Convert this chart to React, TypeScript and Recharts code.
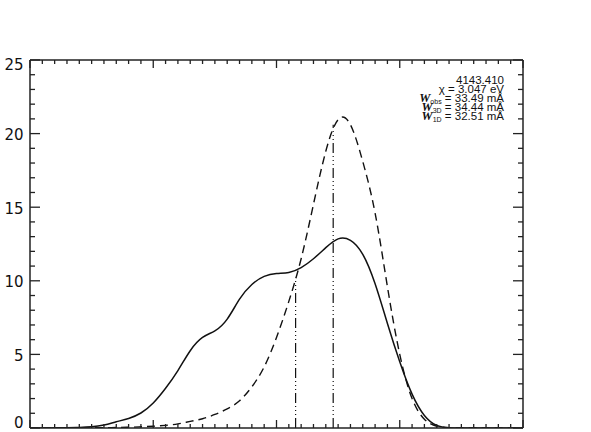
import { LineChart, Line, XAxis, YAxis, ReferenceLine } from "recharts";

// wavelength grid (arbitrary units, 40 minor steps across the frame)
const offsets = [
  0, 1, 2, 3, 4, 5, 6, 7, 8, 9, 10, 11, 12, 13, 14, 15, 16, 17, 18, 19, 20,
  21, 22, 23, 24, 25, 26, 27, 28, 29, 30, 31, 32, 33, 34, 35, 36, 37, 38, 39, 40,
];

// solid profile
const solidProfile = [
  0, 0, 0.01, 0.02, 0.04, 0.08, 0.2, 0.42, 0.65, 1.02,
  1.7, 2.7, 3.9, 5.25, 6.15, 6.6, 7.4, 8.75, 9.75, 10.3,
  10.5, 10.57, 10.9, 11.5, 12.25, 12.85, 12.75, 11.8, 9.8, 7.1,
  4.5, 2.3, 0.85, 0.17, 0.02, 0, 0, 0, 0, 0,
  0,
];

// dashed profile
const dashedProfile = [
  0, 0, 0, 0, 0, 0.01, 0.02, 0.03, 0.05, 0.08,
  0.12, 0.18, 0.28, 0.45, 0.63, 0.92, 1.3, 1.85, 2.8, 4.15,
  6.15, 8.6, 11.5, 15.2, 18.8, 20.95, 20.6, 18.1, 14.6, 9.6,
  5.0, 2.0, 0.6, 0.12, 0.02, 0, 0, 0, 0, 0,
  0,
];

// dash-dot line-centre markers
const markerX = [21.55, 24.6];
const markerTop = [10.2, 20.6];

const yMajorTicks = [0, 5, 10, 15, 20, 25];
const yMinorTicks = [
  0, 1, 2, 3, 4, 5, 6, 7, 8, 9, 10, 11, 12, 13, 14, 15, 16, 17, 18, 19, 20,
  21, 22, 23, 24, 25,
];
const xMajorTicks = [0, 10, 20, 30, 40];
const xMinorTicks = offsets;

const labelShift: Record<number, number> = { 0: -5, 25: 5 };

const data = offsets.map((x, i) => ({
  x,
  solid: solidProfile[i],
  dashed: dashedProfile[i],
}));

const INK = "#111";
const AXIS = "#222";

const makeTick = (side: "left" | "right" | "top" | "bottom") => (props: any) => {
  const { x, y, payload } = props;
  const v = payload.value;
  const vertical = side === "left" || side === "right";
  const major = vertical ? yMajorTicks.includes(v) : xMajorTicks.includes(v);
  const len = vertical ? (major ? 10 : 5) : major ? 8 : 4;
  let x2 = x;
  let y2 = y;
  if (side === "left") x2 = x + len;
  if (side === "right") x2 = x - len;
  if (side === "top") y2 = y + len;
  if (side === "bottom") y2 = y - len;
  return (
    <g>
      <line x1={x} y1={y} x2={x2} y2={y2} stroke={AXIS} strokeWidth={1.3} />
      {side === "left" && major && (
        <text
          x={x - 6.5}
          y={y + (labelShift[v] ?? 1.5)}
          textAnchor="end"
          dominantBaseline="central"
          fontSize={15}
          fontFamily="DejaVu Sans"
          fill={INK}
        >
          {v}
        </text>
      )}
    </g>
  );
};

const W = ({ sub }: { sub: string }) => (
  <>
    <span
      style={{
        fontFamily: "Liberation Serif",
        fontWeight: "bold",
        fontStyle: "italic",
        fontSize: 12.5,
      }}
    >
      W
    </span>
    <span style={{ fontSize: 7, position: "relative", top: 2 }}>{sub}</span>
  </>
);

const lineStyle: React.CSSProperties = {
  height: 9.2,
  lineHeight: "9.2px",
  whiteSpace: "nowrap",
};

export default function App() {
  return (
    <div
      style={{
        position: "absolute",
        left: 0,
        top: 0,
        width: 591,
        height: 432,
        background: "#fff",
      }}
    >
      <LineChart
        width={591}
        height={432}
        data={data}
        margin={{ top: 59, right: 67, bottom: 3, left: 29 }}
      >
        <XAxis
          xAxisId="bottom"
          dataKey="x"
          type="number"
          domain={[0, 40]}
          allowDataOverflow
          orientation="bottom"
          height={1}
          ticks={xMinorTicks}
          interval={0}
          tickSize={0}
          tickMargin={0}
          tickLine={false}
          tick={makeTick("bottom")}
          axisLine={{ stroke: AXIS, strokeWidth: 1.5 }}
        />
        <XAxis
          xAxisId="top"
          type="number"
          domain={[0, 40]}
          allowDataOverflow
          orientation="top"
          height={1}
          ticks={xMinorTicks}
          interval={0}
          tickSize={0}
          tickMargin={0}
          tickLine={false}
          tick={makeTick("top")}
          axisLine={{ stroke: AXIS, strokeWidth: 1.5 }}
        />
        <YAxis
          yAxisId="left"
          type="number"
          domain={[0, 25]}
          allowDataOverflow
          orientation="left"
          width={1}
          ticks={yMinorTicks}
          interval={0}
          tickSize={0}
          tickMargin={0}
          tickLine={false}
          tick={makeTick("left")}
          axisLine={{ stroke: AXIS, strokeWidth: 1.5 }}
        />
        <YAxis
          yAxisId="right"
          type="number"
          domain={[0, 25]}
          allowDataOverflow
          orientation="right"
          width={1}
          ticks={yMinorTicks}
          interval={0}
          tickSize={0}
          tickMargin={0}
          tickLine={false}
          tick={makeTick("right")}
          axisLine={{ stroke: AXIS, strokeWidth: 1.5 }}
        />
        <Line
          xAxisId="bottom"
          yAxisId="left"
          type="natural"
          dataKey="dashed"
          stroke={INK}
          strokeWidth={1.4}
          strokeDasharray="8 5"
          dot={false}
          isAnimationActive={false}
        />
        <Line
          xAxisId="bottom"
          yAxisId="left"
          type="natural"
          dataKey="solid"
          stroke={INK}
          strokeWidth={1.5}
          dot={false}
          isAnimationActive={false}
        />
        {markerX.map((mx, i) => (
          <ReferenceLine
            key={i}
            xAxisId="bottom"
            yAxisId="left"
            segment={[
              { x: mx, y: 0 },
              { x: mx, y: markerTop[i] },
            ]}
            stroke={INK}
            strokeWidth={1.2}
            strokeDasharray="10 3 1 3 1 3 1 3"
          />
        ))}
      </LineChart>
      <div
        style={{
          position: "absolute",
          right: 87,
          top: 75.5,
          textAlign: "right",
          fontFamily: "Liberation Sans",
          fontSize: 11.5,
          color: INK,
        }}
      >
        <div style={lineStyle}>4143.410</div>
        <div style={lineStyle}>χ = 3.047 eV</div>
        <div style={lineStyle}>
          <W sub="obs" /> = 33.49 mÅ
        </div>
        <div style={lineStyle}>
          <W sub="3D" /> = 34.44 mÅ
        </div>
        <div style={lineStyle}>
          <W sub="1D" /> = 32.51 mÅ
        </div>
      </div>
    </div>
  );
}
